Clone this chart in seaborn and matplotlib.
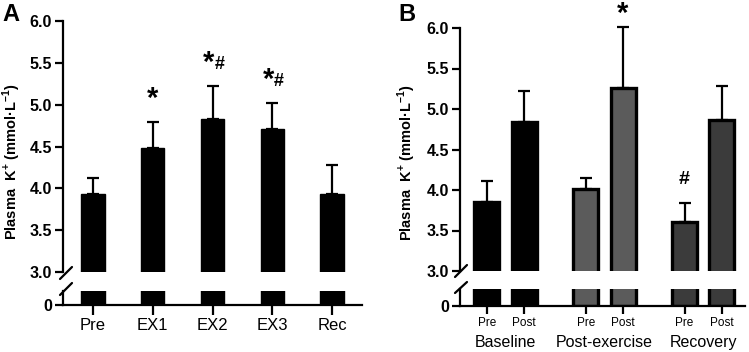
import matplotlib
matplotlib.use("Agg")
import matplotlib.pyplot as plt
import seaborn as sns
import numpy as np
import pandas as pd
from matplotlib.lines import Line2D

sns.set_theme(style="ticks")
plt.rcParams['font.family'] = ['Liberation Sans', 'DejaVu Sans']
plt.rcParams.update({"text.color": "black", "axes.labelcolor": "black",
                     "xtick.color": "black", "ytick.color": "black",
                     "axes.edgecolor": "black", "mathtext.fontset": "custom",
                     "mathtext.rm": "Liberation Sans",
                     "mathtext.bf": "Liberation Sans:bold"})

# ---- data panel A ----
a_labels = ["Pre", "EX1", "EX2", "EX3", "Rec"]
a_mean = [3.93, 4.48, 4.83, 4.71, 3.93]
a_sd = [0.19, 0.31, 0.39, 0.31, 0.35]
a_marks = ["", "*", "*#", "*#", ""]

# ---- data panel B ----
b_groups = ["Baseline", "Post-exercise", "Recovery"]
b_time = ["Pre", "Post"]
b_mean = [3.85, 4.84, 4.01, 5.26, 3.60, 4.87]
b_sd = [0.26, 0.38, 0.14, 0.75, 0.24, 0.42]
b_marks = ["", "", "", "*", "#", ""]
b_colors = ["#000000", "#5b5b5b", "#3b3b3b"]

W, H = 749, 352
fig = plt.figure(figsize=(W / 100, H / 100), dpi=100)

LW = 1.6
YT = [3.0, 3.5, 4.0, 4.5, 5.0, 5.5, 6.0]
YLAB = "Plasma  K$^{\\mathbf{+}}$ (mmol·L$^{\\mathbf{-1}}$)"

def px_axes(l, r, t, b):
    return fig.add_axes([l / W, 1 - b / H, (r - l) / W, (b - t) / H])

def style_axes(ax):
    for s in ["top", "right"]:
        ax.spines[s].set_visible(False)
    for s in ["left", "bottom"]:
        ax.spines[s].set_linewidth(LW)
        ax.spines[s].set_color("black")
    ax.tick_params(width=LW, length=6, color="black", pad=2)

def brk(x0, y0, x1, y1):
    fig.add_artist(Line2D([x0 / W, x1 / W], [1 - y0 / H, 1 - y1 / H],
                          transform=fig.transFigure, color="black", lw=LW))

def errbars(ax, x, m, s):
    c = ax.errorbar(x, m, yerr=[np.zeros(len(m)), s], fmt="none",
                    ecolor="black", elinewidth=LW, capsize=4.5, capthick=LW)
    for art in c.get_children():
        art.set_clip_on(False)

def bold_y(ax):
    for t in ax.get_yticklabels():
        t.set_fontweight("bold")
        t.set_fontsize(11.5)

# ================= Panel A =================
dfA = pd.DataFrame({"cond": a_labels, "val": a_mean})
axA = px_axes(63, 362, 21, 272)
axAl = px_axes(63, 362, 291, 305)
for ax in (axA, axAl):
    sns.barplot(data=dfA, x="cond", y="val", ax=ax, color="black",
                width=0.39, saturation=1, edgecolor="black", errorbar=None)
    style_axes(ax)
    ax.set_xlim(-0.5, 4.5)
    ax.set_xlabel("")
    ax.set_ylabel("")
errbars(axA, np.arange(5), a_mean, a_sd)
axA.set_ylim(3.0, 6.0)
axA.set_yticks(YT)
axA.set_yticklabels([f"{v:.1f}" for v in YT])
axA.spines["bottom"].set_visible(False)
axA.tick_params(axis="x", bottom=False, labelbottom=False)
axAl.set_ylim(0, 0.3)
axAl.set_yticks([0])
axAl.set_yticklabels(["0"])
axAl.tick_params(axis="x", labelsize=12, length=7)
axA.set_ylabel(YLAB, fontweight="bold", fontsize=10.5)
axA.yaxis.set_label_coords(-0.135, 0.44)
for i, m in enumerate(a_marks):
    if not m:
        continue
    top = a_mean[i] + a_sd[i]
    if m == "*":
        axA.text(i, top + 0.28, "*", ha="center", va="center", fontsize=21,
                 fontweight="bold")
    else:
        axA.text(i + 0.03, top + 0.28, "*", ha="right", va="center", fontsize=21,
                 fontweight="bold")
        axA.text(i + 0.03, top + 0.26, "#", ha="left", va="center", fontsize=13,
                 fontweight="bold")
fig.text(2 / W, 1 - 3 / H, "A", fontsize=17, fontweight="bold", va="top", ha="left")
brk(60, 279, 72, 267)
brk(60, 295, 72, 283)

# ================= Panel B =================
b_pos = [0, 1, 2.65, 3.65, 5.3, 6.3]
b_grp = [g for g in b_groups for _ in b_time]
dfB = pd.DataFrame({"pos": b_pos, "val": b_mean, "grp": b_grp})
axB = px_axes(460, 745, 28, 271)
axBl = px_axes(460, 745, 289, 306)
for ax in (axB, axBl):
    sns.barplot(data=dfB, x="pos", y="val", hue="grp", palette=b_colors,
                native_scale=True, dodge=False, width=0.67, saturation=1,
                edgecolor="black", linewidth=2.4, errorbar=None, legend=False, ax=ax)
    style_axes(ax)
    ax.set_xlim(-0.72, 6.92)
    ax.set_xlabel("")
    ax.set_ylabel("")
errbars(axB, b_pos, b_mean, b_sd)
axB.set_ylim(3.0, 6.0)
axB.set_yticks(YT)
axB.set_yticklabels([f"{v:.1f}" for v in YT])
axB.spines["bottom"].set_visible(False)
axB.tick_params(axis="x", bottom=False, labelbottom=False)
axBl.set_ylim(0, 0.3)
axBl.set_yticks([0])
axBl.set_yticklabels(["0"])
axBl.set_xticks(b_pos)
axBl.set_xticklabels(b_time * 3, fontsize=8.5)
axBl.tick_params(axis="x", length=6)
for gi, g in enumerate(b_groups):
    axBl.annotate(g, xy=((b_pos[2 * gi] + b_pos[2 * gi + 1]) / 2, 0),
                  xycoords=axBl.get_xaxis_transform(), xytext=(0, -26),
                  textcoords="offset points", ha="center", va="center",
                  fontsize=11.5)
axB.set_ylabel(YLAB, fontweight="bold", fontsize=10.5)
axB.yaxis.set_label_coords(-0.147, 0.444)
for i, m in enumerate(b_marks):
    if not m:
        continue
    top = b_mean[i] + b_sd[i]
    if m == "*":
        axB.text(b_pos[i], top + 0.16, "*", ha="center", va="center", fontsize=21,
                 fontweight="bold", clip_on=False)
    else:
        axB.text(b_pos[i], top + 0.29, "#", ha="center", va="center", fontsize=14,
                 fontweight="bold", clip_on=False)
fig.text(398 / W, 1 - 3 / H, "B", fontsize=17, fontweight="bold", va="top", ha="left")
brk(455, 277, 467, 265)
brk(455, 293, 467, 282)

for ax in (axA, axAl, axB, axBl):
    bold_y(ax)

fig.savefig("out.png", dpi=100)
